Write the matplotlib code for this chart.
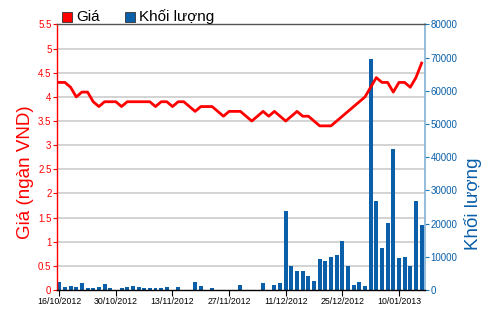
import matplotlib
matplotlib.use("Agg")
import matplotlib.pyplot as plt
from matplotlib.patches import Rectangle
from matplotlib import font_manager

# font: narrow Arial-like if present
names = {f.name for f in font_manager.fontManager.ttflist}
FONT = "Liberation Sans Narrow" if "Liberation Sans Narrow" in names else "Liberation Sans"
plt.rcParams["font.family"] = [FONT, "DejaVu Sans"]

# one entry per trading day, 16/10/2012 .. 16/01/2013
price = [4.3, 4.3, 4.2, 4.0, 4.1, 4.1, 3.9, 3.8, 3.9, 3.9,
         3.9, 3.8, 3.9, 3.9, 3.9, 3.9, 3.9, 3.8, 3.9, 3.9,
         3.8, 3.9, 3.9, 3.8, 3.7, 3.8, 3.8, 3.8, 3.7, 3.6,
         3.7, 3.7, 3.7, 3.6, 3.5, 3.6, 3.7, 3.6, 3.7, 3.6,
         3.5, 3.6, 3.7, 3.6, 3.6, 3.5, 3.4, 3.4, 3.4, 3.5,
         3.6, 3.7, 3.8, 3.9, 4.0, 4.2, 4.4, 4.3, 4.3, 4.1,
         4.3, 4.3, 4.2, 4.4, 4.7]
volume = [2500, 800, 1300, 1000, 2000, 500, 500, 800, 1700, 500,
          0, 500, 800, 1300, 1000, 600, 700, 700, 500, 1000,
          0, 1000, 0, 0, 2500, 1300, 0, 500, 0, 0,
          0, 0, 1600, 0, 0, 0, 2000, 0, 1600, 2000,
          23900, 7300, 5800, 5800, 4200, 2600, 9400, 8800, 9900, 10600,
          14900, 7300, 1600, 2300, 1300, 69500, 26700, 12600, 20300, 42500,
          9600, 9900, 7300, 26700, 19600]
tick_idx = [0, 10, 20, 30, 40, 50, 60]
tick_labels = ["16/10/2012", "30/10/2012", "13/11/2012", "27/11/2012",
               "11/12/2012", "25/12/2012", "10/01/2013"]

RED = "#ff0000"
BLUE = "#0a5fa8"
BLUE_AX = "#1f77b4"

fig = plt.figure(figsize=(5.0, 3.12), dpi=100)
ax = fig.add_axes([0.114, 0.0705, 0.736, 0.851])
ax2 = ax.twinx()

x = list(range(len(price)))
ax2.bar(x, volume, width=0.7, color=BLUE, zorder=2)
ax.plot(x, price, color=RED, lw=2.0, zorder=3)

ax.set_zorder(ax2.get_zorder() + 1)
ax.patch.set_visible(False)

ax.set_xlim(-0.4, 64.6)
ax.set_ylim(0, 5.5)
ax2.set_ylim(0, 80000)

ax.set_yticks([i * 0.5 for i in range(12)])
ax.set_yticklabels(["0", "0.5", "1", "1.5", "2", "2.5", "3", "3.5", "4", "4.5", "5", "5.5"])
ax2.set_yticks(range(0, 80001, 10000))
ax2.set_yticklabels([str(v) for v in range(0, 80001, 10000)])
ax.set_xticks(tick_idx)
ax.set_xticklabels(tick_labels)

# grid lines on the back axes so bars sit on top
for v in range(1, 11):
    ax2.axhline(v * 80000 / 11, color="#cccccc", lw=1.2, zorder=1)

ax.tick_params(axis="y", colors=RED, labelsize=7, length=3, width=0.8, pad=1)
ax.tick_params(axis="x", colors="black", labelsize=6.3, length=4, width=0.8, pad=1)
ax2.tick_params(axis="y", colors=BLUE_AX, labelcolor=BLUE, labelsize=7, length=3, width=0.8, pad=1)

ax.spines["left"].set_color(RED)
ax.spines["right"].set_visible(False)
ax.spines["top"].set_color("#555555")
ax.spines["bottom"].set_color("black")
ax2.spines["right"].set_color("#7fb2d6")
ax2.spines["left"].set_visible(False)
ax2.spines["top"].set_visible(False)
ax2.spines["bottom"].set_visible(False)
for s in ax.spines.values():
    s.set_linewidth(1.0)
ax2.spines["right"].set_linewidth(1.2)

ax.set_ylabel("Giá (ngàn VND)", color=RED, fontsize=13.5)
ax2.set_ylabel("Khối lượng", color=BLUE, fontsize=13.5)
ax.yaxis.set_label_coords(-0.062, 0.445)
ax2.yaxis.set_label_coords(1.105, 0.325)

# legend drawn by hand at the top
fig.patches.append(Rectangle((62 / 500, 1 - 22 / 312), 10 / 500, 10 / 312,
                             transform=fig.transFigure, facecolor=RED,
                             edgecolor="#333333", lw=0.6))
fig.text(76 / 500, 1 - 17 / 312, "Giá", fontsize=11, va="center", ha="left")
fig.patches.append(Rectangle((125 / 500, 1 - 22 / 312), 10 / 500, 10 / 312,
                             transform=fig.transFigure, facecolor=BLUE,
                             edgecolor="#333333", lw=0.6))
fig.text(139 / 500, 1 - 17 / 312, "Khối lượng", fontsize=11, va="center", ha="left")

fig.savefig("out.png", dpi=100)
